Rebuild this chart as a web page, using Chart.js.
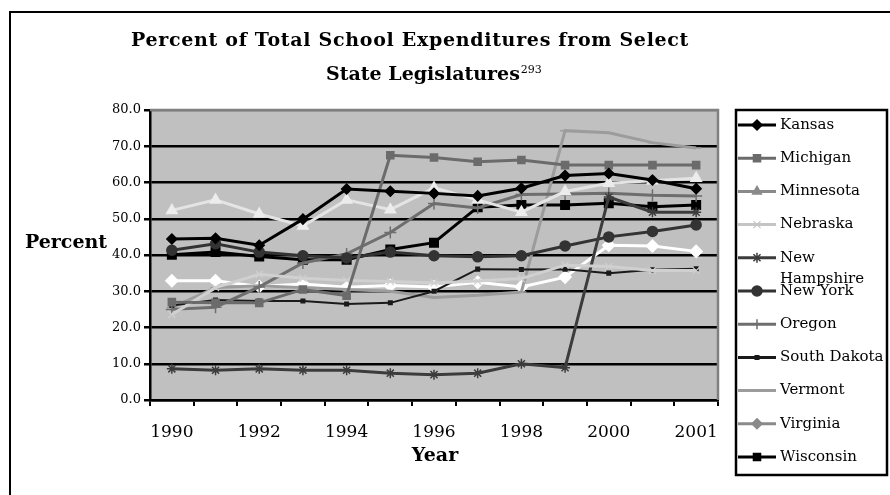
<!DOCTYPE html>
<html>
<head>
<meta charset="utf-8">
<script src="https://cdn.jsdelivr.net/npm/chart.js@4.4.1/dist/chart.umd.min.js"></script>
<style>
  html, body { margin: 0; padding: 0; background: #fff; }
  #wrap { position: relative; width: 890px; height: 495px; overflow: hidden; }
  #frame { position: absolute; left: 9px; top: 11px; width: 900px; height: 500px; border: 2px solid #000; box-sizing: border-box; }
  #chart { position: absolute; left: 0; top: 0; }
</style>
</head>
<body>
<div id="wrap">
  <div id="frame"></div>
  <canvas id="chart" width="890" height="495"></canvas>
</div>
<script>
// x positions, only every other one carries a label in the original
const years = ["1990", "", "1992", "", "1994", "", "1996", "", "1998", "", "2000", "", "2001"];
const yTicks = [0, 10, 20, 30, 40, 50, 60, 70, 80];

const kansas       = [44.4, 44.6, 42.7, 49.9, 58.2, 57.6, 57.0, 56.3, 58.4, 61.9, 62.5, 60.7, 58.3];
const michigan     = [27.0, 26.8, 26.8, 30.5, 28.8, 67.5, 66.9, 65.7, 66.2, 64.8, 64.8, 64.8, 64.8];
const minnesota    = [52.3, 55.2, 51.3, 48.0, 55.2, 52.5, 58.5, 55.2, 51.8, 57.5, 59.8, 60.5, 61.2];
const nebraska     = [23.6, 31.0, 34.7, 33.6, 33.0, 32.7, 32.3, 32.8, 33.5, 37.2, 36.8, 35.7, 35.7];
const newHampshire = [8.6, 8.2, 8.6, 8.2, 8.2, 7.4, 7.0, 7.4, 10.0, 8.9, 56.0, 51.8, 51.8];
const newYork      = [41.3, 43.1, 40.8, 39.8, 39.2, 40.8, 39.8, 39.5, 39.8, 42.5, 45.0, 46.5, 48.3];
const oregon       = [25.0, 25.6, 31.2, 37.8, 40.3, 46.2, 54.2, 53.0, 56.7, 56.8, 57.0, 56.5, 56.3];
const southDakota  = [26.1, 27.6, 27.3, 27.3, 26.5, 26.8, 30.0, 36.1, 36.0, 36.1, 35.0, 35.9, 36.2];
const vermont      = [25.5, 31.0, 31.5, 31.0, 30.5, 30.0, 28.3, 28.9, 29.8, 74.3, 73.7, 71.0, 69.5];
const virginia     = [32.9, 32.9, 31.3, 32.0, 31.1, 31.6, 31.2, 32.5, 31.2, 33.9, 42.7, 42.5, 41.0];
const wisconsin    = [40.1, 40.8, 39.6, 38.7, 38.7, 41.5, 43.4, 53.2, 53.8, 53.8, 54.3, 53.3, 53.8];

const serif = "'DejaVu Serif', serif";

function series(label, data, color, pointStyle, radius, pointColor) {
  return {
    label: label,
    data: data,
    borderColor: color,
    backgroundColor: pointColor || color,
    borderWidth: 3,
    pointStyle: pointStyle,
    pointRadius: radius,
    pointBackgroundColor: pointColor || color,
    pointBorderColor: pointColor || color,
    pointBorderWidth: 1.5,
    tension: 0,
  };
}

const datasets = [
  series("Kansas", kansas, "#000000", "rectRot", 5),
  series("Michigan", michigan, "#6b6b6b", "rect", 5),
  series("Minnesota", minnesota, "#e4e4e4", "triangle", 6, "#ececec"),
  series("Nebraska", nebraska, "#d0d0d0", "crossRot", 5),
  series("New Hampshire", newHampshire, "#3c3c3c", "star", 5),
  series("New York", newYork, "#333333", "circle", 5),
  series("Oregon", oregon, "#6e6e6e", "cross", 6),
  series("South Dakota", southDakota, "#1a1a1a", "rect", 2.5),
  series("Vermont", vermont, "#9c9c9c", "line", 5),
  series("Virginia", virginia, "#ffffff", "rectRot", 6),
  series("Wisconsin", wisconsin, "#000000", "rect", 6),
];
datasets[7].borderWidth = 2;
datasets[3].pointBorderWidth = 1.2;

// the legend in the original shows the pale series in mid gray
const legendColors = {
  "Minnesota": "#8a8a8a",
  "Nebraska": "#c4c4c4",
  "Virginia": "#8a8a8a",
};

// background, plot frame, titles and the boxed legend
const decor = {
  id: "decor",
  beforeDraw(chart) {
    const { ctx, chartArea: a } = chart;
    ctx.save();
    ctx.fillStyle = "#c0c0c0";
    ctx.fillRect(a.left, a.top, a.right - a.left, a.bottom - a.top);
    ctx.restore();
  },
  afterDraw(chart) {
    const { ctx, chartArea: a } = chart;
    ctx.save();
    // gray frame on top and right of the plot
    ctx.strokeStyle = "#808080";
    ctx.lineWidth = 2.5;
    ctx.beginPath();
    ctx.moveTo(a.left, a.top);
    ctx.lineTo(a.right, a.top);
    ctx.lineTo(a.right, a.bottom);
    ctx.stroke();

    ctx.fillStyle = "#000";
    ctx.textBaseline = "middle";
    ctx.font = "bold 19px " + serif;
    ctx.textAlign = "center";
    ctx.letterSpacing = "0.7px";
    ctx.fillText("Percent of Total School Expenditures from Select", 410, 41);
    ctx.letterSpacing = "0px";
    ctx.textAlign = "left";
    const t2 = "State Legislatures";
    ctx.fillText(t2, 326, 75);
    const w2 = ctx.measureText(t2).width;
    ctx.font = "11px " + serif;
    ctx.fillText("293", 326 + w2 + 1, 70);

    ctx.font = "bold 19px " + serif;
    ctx.textAlign = "center";
    ctx.fillText("Percent", 66, 243);
    ctx.fillText("Year", 435, 456);

    // legend box
    const lx = 736, ly = 110, lw = 151, lh = 365;
    ctx.fillStyle = "#fff";
    ctx.fillRect(lx, ly, lw, lh);
    ctx.strokeStyle = "#000";
    ctx.lineWidth = 2.5;
    ctx.strokeRect(lx, ly, lw, lh);
    chart.data.datasets.forEach((ds, i) => {
      const y = 125 + i * 33.2;
      const lineColor = legendColors[ds.label] || ds.borderColor;
      const markColor = legendColors[ds.label] || ds.pointBackgroundColor;
      ctx.strokeStyle = lineColor;
      ctx.lineWidth = 3;
      ctx.beginPath();
      ctx.moveTo(lx + 2, y);
      ctx.lineTo(lx + 40, y);
      ctx.stroke();
      ctx.fillStyle = markColor;
      ctx.strokeStyle = markColor;
      ctx.lineWidth = ds.pointBorderWidth;
      Chart.helpers.drawPoint(ctx, { pointStyle: ds.pointStyle, radius: Math.min(ds.pointRadius, 5), rotation: 0, borderWidth: ds.pointBorderWidth }, lx + 21, y);
      ctx.fillStyle = "#000";
      ctx.font = "15px " + serif;
      ctx.textAlign = "left";
      if (ds.label === "New Hampshire") {
        ctx.fillText("New", lx + 44, y);
        ctx.fillText("Hampshire", lx + 44, y + 21);
      } else {
        ctx.fillText(ds.label, lx + 44, y);
      }
    });
    ctx.restore();
  },
};

new Chart(document.getElementById("chart"), {
  type: "line",
  data: { labels: years, datasets: datasets },
  options: {
    responsive: false,
    animation: false,
    devicePixelRatio: 1,
    layout: { padding: { left: 0, right: 172, top: 110, bottom: 0 } },
    plugins: {
      legend: { display: false },
      title: { display: false },
      tooltip: { enabled: false },
    },
    scales: {
      x: {
        offset: true,
        afterFit: (scale) => { scale.height = 95; },
        grid: {
          offset: true,
          drawOnChartArea: false,
          color: "#000",
          lineWidth: 2,
          tickLength: 6,
        },
        border: { color: "#000", width: 2.5 },
        ticks: {
          autoSkip: false,
          maxRotation: 0,
          padding: 16,
          color: "#000",
          font: { family: serif, size: 17 },
        },
      },
      y: {
        min: 0,
        max: 80,
        afterFit: (scale) => { scale.width = 150; },
        afterBuildTicks: (scale) => { scale.ticks = yTicks.map((v) => ({ value: v })); },
        grid: {
          color: (c) => (c.tick && c.tick.value === 80 ? "#808080" : "#000"),
          tickColor: "#000",
          lineWidth: 2.5,
          tickLength: 6,
        },
        border: { color: "#000", width: 2.5 },
        ticks: {
          padding: 3,
          color: "#000",
          font: { family: serif, size: 13 },
          callback: (v) => Number(v).toFixed(1),
        },
      },
    },
  },
  plugins: [decor],
});
</script>
</body>
</html>
